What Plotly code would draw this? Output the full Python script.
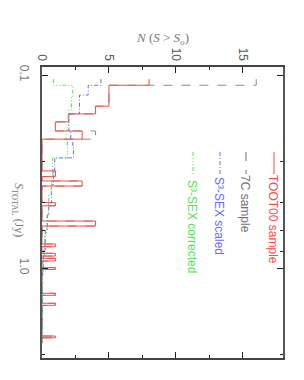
import plotly.graph_objects as go

# ---------------- data ----------------
# TOOT00 sample: bin edges in flux density (Jy) and counts per bin
toot_edges = [0.105, 0.113, 0.145, 0.159, 0.175, 0.195, 0.215, 0.314, 0.336, 0.354,
              0.376, 0.458, 0.476, 0.571, 0.606, 0.751, 0.776, 0.839, 0.867, 0.891,
              0.920, 0.996, 1.018, 1.352, 1.385, 1.523, 1.561, 2.251, 2.300, 2.447]
toot_counts = [8, 5, 4, 2, 1, 3, 0, 1, 0, 3, 0, 1, 0, 4, 0, 1, 0, 1, 0, 1,
               0, 1, 0, 1, 0, 1, 0, 1, 0]

# 7C sample (same bins)
c7_edges = toot_edges
c7_counts = [16, 5, 4, 2, 1, 4, 0, 1, 0, 3, 0, 1, 0, 4, 0, 1, 0, 1, 0, 1,
             0, 1, 0, 1, 0, 1, 0, 1, 0]

# S3-SEX scaled
sex_scaled_edges = [0.105, 0.113, 0.127, 0.159, 0.195, 0.215, 0.236, 0.269, 0.311,
                    0.371, 0.460, 0.531, 0.636, 0.807, 1.024, 2.447]
sex_scaled_counts = [4.4, 3.45, 2.8, 2.0, 2.15, 2.3, 2.35, 0.95, 0.85, 0.7, 0.5,
                     0.4, 0.25, 0.12, 0.04]

# S3-SEX corrected
sex_corr_edges = [0.105, 0.113, 0.130, 0.152, 0.159, 0.193, 0.217, 0.269, 0.330,
                  0.418, 0.531, 0.675, 0.856, 1.087, 2.447]
sex_corr_counts = [0.85, 2.3, 2.2, 2.0, 1.95, 1.8, 1.9, 0.8, 0.7, 0.5, 0.35, 0.2,
                   0.1, 0.03]

x_ticks = [0, 5, 10, 15]
y_tick_vals = [0.1, 1.0]
y_tick_text = ["0.1", "1.0"]
y_minor_vals = [0.279, 0.46, 0.643, 0.826, 2.79]

legend_names = ["TOOT00 sample", "7C sample", "S³-SEX scaled", "S³-SEX corrected"]

RED = "#ff4a4a"
GRAY = "#8a8a8a"
BLUE = "#6a6aff"
GREEN = "#4ee84e"

# ---------------- geometry (page pixels) ----------------
W, H = 304, 380
L, R, T, B = 42, 283, 67, 358
OFF = 8  # default page body margin


def px(xp):
    return (xp - L) / (R - L)


def py(yp):
    return (B - yp) / (B - T)


def steps(edges, counts):
    return list(counts) + [counts[-1]], list(edges)


fig = go.Figure()
series = [
    (c7_edges, c7_counts, GRAY, "dash"),
    (toot_edges, toot_counts, RED, "solid"),
    (sex_scaled_edges, sex_scaled_counts, BLUE, "4px,2px,1px,2px"),
    (sex_corr_edges, sex_corr_counts, GREEN, "4px,2px,1px,2px,1px,2px,1px,2px"),
]
for edges, counts, col, dash in series:
    xs, ys = steps(edges, counts)
    fig.add_trace(go.Scatter(x=xs, y=ys, mode="lines", line_shape="vh",
                             line=dict(color=col, width=1, dash=dash),
                             showlegend=False, hoverinfo="skip"))

fig.update_layout(
    width=W, height=H,
    margin=dict(l=L - OFF, r=W - R + OFF, t=T - OFF, b=H - B + OFF, pad=0,
                autoexpand=False),
    paper_bgcolor="white", plot_bgcolor="white",
    showlegend=False,
    font=dict(family="Liberation Sans", color="#555"),
)
fig.update_xaxes(
    side="top", range=[0, 18], tickvals=x_ticks, ticktext=[str(v) for v in x_ticks],
    tickangle=90, ticks="inside", ticklen=6, tickwidth=1, tickcolor="#222",
    showline=True, linecolor="#444", linewidth=1.5, mirror="ticks",
    showgrid=False, zeroline=False, automargin=False,
    tickfont=dict(size=12, color="#555"),
    minor=dict(tickvals=[2.5, 7.5, 12.5], ticks="inside", ticklen=3,
               tickcolor="#222", showgrid=False),
)
fig.update_yaxes(
    type="log", range=[0.4663, -1.0415],
    tickvals=y_tick_vals, ticktext=y_tick_text, tickangle=90,
    ticks="inside", ticklen=6, tickwidth=1, tickcolor="#222",
    showline=True, linecolor="#555", linewidth=2, mirror="ticks",
    showgrid=False, zeroline=False, ticklabelstandoff=6, automargin=False,
    tickfont=dict(size=12, color="#777"),
    minor=dict(tickvals=y_minor_vals, ticks="inside", ticklen=3,
               tickcolor="#222", showgrid=False),
)

annots = []
# top title
annots.append(dict(
    text="<i>N</i> (<i>S</i> &gt; <i>S</i><sub><i>o</i></sub>)",
    x=px(162), y=py(39), xref="paper", yref="paper", showarrow=False,
    xanchor="center", yanchor="middle",
    font=dict(family="Liberation Serif", size=13, color="#777")))
# left title (rotated), placed with a pixel shift from the left edge
annots.append(dict(
    text="<i>S</i><sub>TOTAL</sub> (Jy)", textangle=90,
    x=0, xshift=18 - L, y=py(210), xref="paper", yref="paper", showarrow=False,
    xanchor="center", yanchor="middle",
    font=dict(family="Liberation Serif", size=12, color="#777")))

# legend (rotated), centres in page pixels
leg_x = [273, 245, 219, 192]
leg_yc = [219, 204, 216, 226]
leg_cols = [RED, "#707070", BLUE, GREEN]
leg_dash = ["solid", "dash", "4px,2px,1px,2px", "4px,2px,1px,2px,1px,2px,1px,2px"]
shapes = []
for name, xx, yc, col, dash in zip(legend_names, leg_x, leg_yc, leg_cols, leg_dash):
    annots.append(dict(
        text=name, textangle=90, x=px(xx), y=py(yc), xref="paper", yref="paper",
        showarrow=False, xanchor="center", yanchor="middle",
        font=dict(family="Liberation Sans", size=12, color=col)))
    shapes.append(dict(type="line", xref="paper", yref="paper",
                       x0=px(xx + 1), x1=px(xx + 1), y0=py(152), y1=py(174),
                       line=dict(color=col, width=1, dash=dash)))

fig.update_layout(annotations=annots, shapes=shapes)
fig.write_html("out.html")
